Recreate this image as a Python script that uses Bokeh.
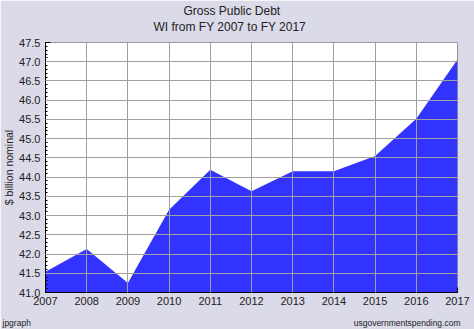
from bokeh.plotting import figure
from bokeh.models import Range1d, Title, SingleIntervalTicker, NumeralTickFormatter
from bokeh.embed import file_html
from bokeh.resources import INLINE

years = [2007, 2008, 2009, 2010, 2011, 2012, 2013, 2014, 2015, 2016, 2017]
debt = [41.54, 42.13, 41.25, 43.15, 44.19, 43.63, 44.15, 44.15, 44.55, 45.52, 47.06]
y_min, y_max = 41.0, 47.5

title = "Gross Public Debt"
subtitle = "WI from FY 2007 to FY 2017"
y_label = "$ billion nominal"
foot_left = "jpgraph"
foot_right = "usgovernmentspending.com"

BG = "#DADAE8"
FONT = "Liberation Sans"
TXT = "#222222"

p = figure(width=474, height=329, output_backend="svg", toolbar_location=None,
           x_range=Range1d(years[0], years[-1]), y_range=Range1d(y_min, y_max),
           min_border_left=45, min_border_right=17, min_border_top=42, min_border_bottom=37,
           title=title)
p.background_fill_color = "white"
p.border_fill_color = BG
p.outline_line_color = "#999999"

# titles (figure title is outermost, added Title sits closer to the frame)
p.title.align = "left"
p.title.offset = 138
p.title.vertical_align = "middle"
p.title.standoff = -15
p.title.text_font = FONT
p.title.text_font_size = "12px"
p.title.text_font_style = "normal"
p.title.text_color = TXT
p.add_layout(Title(text=subtitle, align="left", offset=108, vertical_align="middle",
                   standoff=15, text_font=FONT, text_font_size="12px",
                   text_font_style="normal", text_color=TXT), "above")

p.varea(x=years, y1=[y_min] * len(years), y2=debt, fill_color="#3333FF", fill_alpha=1.0)

for g in (p.xgrid, p.ygrid):
    g.grid_line_color = "#A0A0A0"
    g.grid_line_width = 1
    g.level = "overlay"

p.xaxis.ticker = SingleIntervalTicker(interval=1, num_minor_ticks=0)
p.yaxis.ticker = SingleIntervalTicker(interval=0.5, num_minor_ticks=5)
p.yaxis.formatter = NumeralTickFormatter(format="0.0")

for ax in (p.xaxis, p.yaxis):
    ax.axis_line_color = "black"
    ax.major_tick_in = 5
    ax.major_tick_out = 0
    ax.minor_tick_in = 2
    ax.minor_tick_out = 0
    ax.major_tick_line_color = "black"
    ax.minor_tick_line_color = "black"
    ax.major_label_text_font = FONT
    ax.major_label_text_font_size = "11px"
    ax.major_label_text_color = TXT
p.xaxis.major_label_standoff = 4
p.yaxis.major_label_standoff = 5

p.yaxis.axis_label = y_label
p.yaxis.axis_label_text_font = FONT
p.yaxis.axis_label_text_font_size = "10.5px"
p.yaxis.axis_label_text_font_style = "normal"
p.yaxis.axis_label_text_color = TXT
p.yaxis.axis_label_standoff = 1

# blank x axis label only reserves room so the footer line sits at the bottom
p.xaxis.axis_label = " "
p.xaxis.axis_label_text_font_size = "10px"
p.xaxis.axis_label_standoff = 1

p.add_layout(Title(text=foot_left, align="left", offset=-43, vertical_align="middle",
                   standoff=-12, text_font=FONT, text_font_size="8.5px",
                   text_font_style="normal", text_color=TXT), "below")
p.add_layout(Title(text=foot_right, align="right", offset=-3, vertical_align="middle",
                   standoff=-12, text_font=FONT, text_font_size="8.5px",
                   text_font_style="normal", text_color=TXT), "below")

open("out.html", "w").write(file_html(p, INLINE))
